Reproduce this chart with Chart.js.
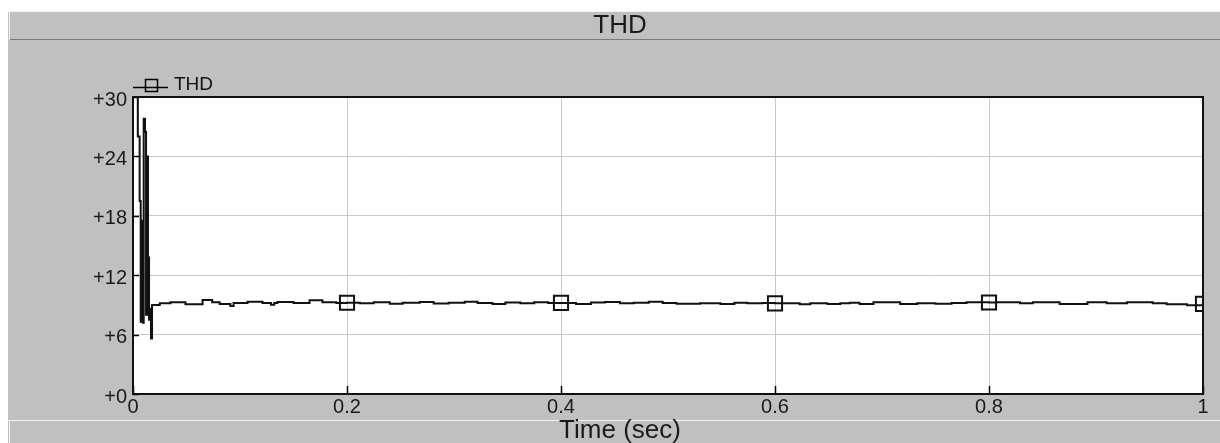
<!DOCTYPE html>
<html>
<head>
<meta charset="utf-8">
<script src="https://cdn.jsdelivr.net/npm/chart.js@4.4.1/dist/chart.umd.min.js"></script>
<style>
  html, body { margin: 0; padding: 0; background: #ffffff; }
  #wrap { position: relative; width: 1220px; height: 443px; overflow: hidden; }
  canvas { position: absolute; left: 0; top: 0; }
  #legend { position: absolute; left: 132px; top: 74px; height: 20px; }
  #legend svg { position: absolute; left: 0; top: 4px; }
  #legend span { position: absolute; left: 42px; top: 0; font: 19px "Liberation Sans", Arial, sans-serif; line-height: 19px; color: #111; white-space: nowrap; }
</style>
</head>
<body>
<div id="wrap">
  <canvas id="c" width="1220" height="443"></canvas>
  <div id="legend">
    <svg width="40" height="16" viewBox="0 0 40 16">
      <line x1="1" y1="9.5" x2="36" y2="9.5" stroke="#000" stroke-width="1.5"/>
      <rect x="13.5" y="1.5" width="12" height="12" fill="none" stroke="#000" stroke-width="1.5"/>
    </svg>
    <span>THD</span>
  </div>
</div>
<script>
// ---- data ----
const chartTitle = 'THD';
const seriesName = 'THD';
const xAxisTitle = 'Time (sec)';
const xTickLabels = ['0', '0.2', '0.4', '0.6', '0.8', '1'];
const yTickLabels = ['+0', '+6', '+12', '+18', '+24', '+30'];
const markerTimes = [0.2, 0.4, 0.6, 0.8, 1.0];

const times = [
  0, 0.0045, 0.0062, 0.0072, 0.0082, 0.0092, 0.0100, 0.0112, 0.0122, 0.0132, 0.0140, 0.0150, 0.0160, 0.0168, 0.0178,
  0.025, 0.035, 0.049, 0.065, 0.074, 0.081, 0.091, 0.094, 0.107, 0.121, 0.129, 0.132, 0.135, 0.150, 0.165, 0.177, 0.190,
  0.200, 0.212, 0.225, 0.240, 0.252, 0.268, 0.281, 0.295, 0.310, 0.322, 0.336, 0.348, 0.362, 0.375, 0.388,
  0.400, 0.414, 0.428, 0.441, 0.455, 0.468, 0.482, 0.495, 0.508, 0.530, 0.549, 0.562, 0.574, 0.588,
  0.600, 0.607, 0.623, 0.633, 0.649, 0.661, 0.670, 0.679, 0.692, 0.717, 0.733, 0.750, 0.765, 0.779,
  0.800, 0.807, 0.829, 0.841, 0.866, 0.892, 0.910, 0.929, 0.953, 0.966, 0.985, 1.000
];
const thd = [
  30, 26.0, 19.5, 7.3, 17.5, 7.2, 27.8, 26.5, 8.0, 24.0, 13.8, 7.5, 8.6, 5.6, 9.0,
  9.16, 9.26, 9.06, 9.49, 9.26, 9.09, 8.89, 9.20, 9.32, 9.20, 9.02, 9.20, 9.29, 9.20, 9.46, 9.26, 9.20,
  9.22, 9.16, 9.26, 9.12, 9.22, 9.30, 9.14, 9.22, 9.32, 9.20, 9.10, 9.24, 9.16, 9.28, 9.18,
  9.20, 9.10, 9.24, 9.30, 9.16, 9.22, 9.32, 9.20, 9.12, 9.16, 9.09, 9.22, 9.16, 9.20,
  9.16, 9.16, 9.06, 9.16, 9.09, 9.16, 9.22, 9.09, 9.26, 9.09, 9.16, 9.12, 9.18, 9.26,
  9.24, 9.26, 9.16, 9.26, 9.09, 9.26, 9.16, 9.26, 9.16, 9.06, 8.96, 9.10
];

const points = times.map((t, i) => ({ x: t, y: thd[i] }));

const FONT = '"Liberation Sans", Arial, sans-serif';
const GRAY = '#c0c0c0';

const backgroundPlugin = {
  id: 'panelBg',
  beforeDraw(chart) {
    const ctx = chart.ctx, W = chart.width, H = chart.height;
    ctx.save();
    ctx.fillStyle = '#ffffff';
    ctx.fillRect(0, 0, W, H);
    ctx.fillStyle = GRAY;
    ctx.fillRect(8, 11, W - 8, H - 11);
    // title bar bevel
    ctx.fillStyle = '#f2f2f2';
    ctx.fillRect(8, 11, W - 8, 1);
    ctx.fillRect(9, 12, 1, 28);
    ctx.fillStyle = '#7a7a7a';
    ctx.fillRect(10, 39, W - 10, 1);
    // bottom bar bevel
    ctx.fillStyle = '#f4f4f4';
    ctx.fillRect(8, 420, W - 8, 1);
    ctx.fillRect(9, 421, 1, H - 421);
    // plot area
    const a = chart.chartArea;
    ctx.fillStyle = '#ffffff';
    ctx.fillRect(a.left, a.top, a.right - a.left, a.bottom - a.top);
    ctx.restore();
  }
};

const framePlugin = {
  id: 'frame',
  afterDatasetsDraw(chart) {
    const ctx = chart.ctx, a = chart.chartArea;
    const xs = chart.scales.x, ys = chart.scales.y;
    ctx.save();
    ctx.strokeStyle = '#000';
    ctx.lineWidth = 1.5;
    ctx.beginPath();
    xs.ticks.forEach(t => {
      const px = Math.round(xs.getPixelForValue(t.value)) + 0.5;
      ctx.moveTo(px, a.bottom);
      ctx.lineTo(px, a.bottom - 8);
    });
    ys.ticks.forEach(t => {
      const py = Math.round(ys.getPixelForValue(t.value)) + 0.5;
      ctx.moveTo(a.left, py);
      ctx.lineTo(a.left + 6, py);
    });
    ctx.stroke();
    ctx.lineWidth = 2;
    ctx.strokeStyle = '#111';
    ctx.strokeRect(a.left, a.top, a.right - a.left, a.bottom - a.top);
    ctx.restore();
  }
};

new Chart(document.getElementById('c'), {
  type: 'line',
  data: {
    datasets: [{
      label: seriesName,
      data: points,
      stepped: true,
      borderColor: '#111',
      borderWidth: 2,
      pointStyle: 'rect',
      pointRadius: ctx => (ctx.raw && markerTimes.includes(ctx.raw.x)) ? 10 : 0,
      pointHoverRadius: ctx => (ctx.raw && markerTimes.includes(ctx.raw.x)) ? 10 : 0,
      pointBorderWidth: 2,
      pointBorderColor: '#111',
      pointBackgroundColor: 'rgba(0,0,0,0)',
      fill: false
    }]
  },
  options: {
    responsive: false,
    animation: false,
    events: [],
    layout: { padding: { left: 37, right: 17, top: 0, bottom: 0 } },
    plugins: {
      legend: { display: false },
      tooltip: { enabled: false },
      title: {
        display: true,
        text: chartTitle,
        color: '#1a1a1a',
        font: { family: FONT, size: 26, weight: 'normal', lineHeight: 1.2 },
        padding: { top: 10, bottom: 55.8 }
      },
      subtitle: {
        display: true,
        position: 'bottom',
        text: xAxisTitle,
        color: '#1a1a1a',
        font: { family: FONT, size: 26, weight: 'normal', lineHeight: 1 },
        padding: { top: -3, bottom: -1 }
      }
    },
    scales: {
      x: {
        type: 'linear',
        min: 0, max: 1,
        afterFit(s) { s.height = 27; },
        grid: { color: '#c8c8c8', lineWidth: 1, drawTicks: false },
        border: { display: false },
        ticks: {
          stepSize: 0.2,
          padding: 1,
          maxRotation: 0,
          autoSkip: false,
          color: '#1a1a1a',
          font: { family: FONT, size: 20 },
          callback: (v, i) => xTickLabels[i]
        }
      },
      y: {
        min: 0, max: 30,
        afterFit(s) { s.width = 96; },
        grid: { color: '#c8c8c8', lineWidth: 1, drawTicks: false },
        border: { display: false },
        ticks: {
          stepSize: 6,
          padding: 6,
          labelOffset: 3,
          color: '#1a1a1a',
          font: { family: FONT, size: 20 },
          callback: (v, i) => yTickLabels[i]
        }
      }
    }
  },
  plugins: [backgroundPlugin, framePlugin]
});
</script>
</body>
</html>
